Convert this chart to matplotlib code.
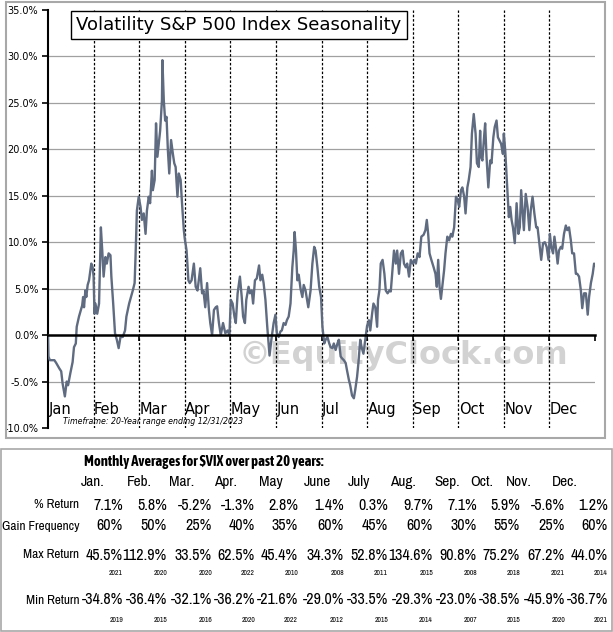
import matplotlib
matplotlib.use("Agg")
import matplotlib.pyplot as plt
from matplotlib.patches import Rectangle

W, H = 613, 632

# seasonal path (fractional month position, cumulative % change)
pos = [
    0.00, 0.01, 0.04, 0.07, 0.14, 0.18, 0.25, 0.29, 0.32, 0.37, 0.41, 0.44, 0.49, 0.54, 0.57,
    0.61, 0.63, 0.68, 0.71, 0.75, 0.77, 0.79, 0.82, 0.84, 0.87, 0.90, 0.93, 0.95, 0.98, 1.00,
    1.02, 1.04, 1.08, 1.12, 1.16, 1.19, 1.22, 1.26, 1.29, 1.33, 1.37, 1.39, 1.43, 1.47, 1.51,
    1.55, 1.59, 1.64, 1.69, 1.72, 1.78, 1.82, 1.86, 1.90, 1.92, 1.95, 1.99,
    2.03, 2.06, 2.10, 2.14, 2.17, 2.21, 2.24, 2.28, 2.30, 2.34, 2.37, 2.40, 2.43, 2.46, 2.50,
    2.51, 2.54, 2.57, 2.60, 2.63, 2.66, 2.70, 2.74, 2.77, 2.80, 2.84, 2.87, 2.91, 2.94, 2.98,
    3.00, 3.04, 3.08, 3.11, 3.15, 3.20, 3.24, 3.28, 3.34, 3.38, 3.41, 3.45, 3.49, 3.53, 3.56,
    3.60, 3.64, 3.68, 3.71, 3.75, 3.79, 3.84, 3.89, 3.94, 3.98,
    4.01, 4.05, 4.09, 4.12, 4.16, 4.21, 4.25, 4.28, 4.32, 4.35, 4.40, 4.43, 4.47, 4.50, 4.54,
    4.58, 4.63, 4.66, 4.70, 4.73, 4.77, 4.81, 4.86, 4.90, 4.95, 4.99,
    5.02, 5.06, 5.10, 5.13, 5.17, 5.21, 5.24, 5.28, 5.32, 5.36, 5.39, 5.41, 5.44, 5.47, 5.50,
    5.54, 5.58, 5.61, 5.65, 5.71, 5.76, 5.80, 5.84, 5.87, 5.91, 5.95, 5.99,
    6.02, 6.06, 6.09, 6.13, 6.17, 6.20, 6.24, 6.27, 6.31, 6.35, 6.38, 6.42, 6.45, 6.49, 6.53,
    6.56, 6.60, 6.63, 6.67, 6.71, 6.74, 6.78, 6.81, 6.85, 6.88, 6.92, 6.96,
    7.00, 7.04, 7.07, 7.11, 7.14, 7.18, 7.22, 7.24, 7.27, 7.30, 7.34, 7.38, 7.41, 7.45, 7.49,
    7.52, 7.56, 7.59, 7.63, 7.66, 7.70, 7.74, 7.78, 7.81, 7.85, 7.88, 7.92, 7.96, 8.00,
    8.04, 8.07, 8.11, 8.15, 8.19, 8.24, 8.28, 8.31, 8.34, 8.37, 8.41, 8.46, 8.50, 8.53, 8.56,
    8.59, 8.62, 8.65, 8.69, 8.72, 8.76, 8.80, 8.84, 8.87, 8.91, 8.95, 8.99,
    9.02, 9.06, 9.09, 9.13, 9.16, 9.20, 9.23, 9.27, 9.30, 9.34, 9.38, 9.41, 9.45, 9.48, 9.50,
    9.53, 9.56, 9.59, 9.62, 9.66, 9.70, 9.73, 9.77, 9.80, 9.84, 9.87, 9.91, 9.94, 9.98, 10.00,
    10.03, 10.07, 10.11, 10.14, 10.17, 10.20, 10.24, 10.28, 10.32, 10.35, 10.38, 10.41, 10.44,
    10.48, 10.52, 10.56, 10.59, 10.63, 10.67, 10.71, 10.74, 10.78, 10.82, 10.86, 10.90, 10.94, 10.98,
    11.01, 11.04, 11.08, 11.11, 11.15, 11.18, 11.21, 11.25, 11.28, 11.32, 11.36, 11.39, 11.43,
    11.47, 11.50, 11.54, 11.58, 11.61, 11.65, 11.69, 11.72, 11.76, 11.80, 11.84, 11.87, 11.91,
    11.95, 11.98, 12.00,
]
vix_pct = [
    0.0, -2.3, -2.7, -2.7, -2.7, -3.0, -3.6, -3.9, -5.2, -6.6, -5.0, -5.4, -4.1, -2.9, -1.3,
    -0.9, 0.9, 2.0, 2.5, 3.2, 4.1, 3.0, 4.8, 4.1, 5.4, 5.9, 7.0, 7.7, 7.3, 6.3,
    2.3, 3.4, 2.3, 3.4, 11.6, 9.1, 6.3, 8.4, 7.7, 8.8, 8.6, 6.3, 3.4, 0.2, -0.5,
    -1.4, -0.2, -0.2, 0.5, 2.0, 3.4, 4.1, 4.8, 5.6, 8.4, 13.4, 14.9,
    13.8, 12.4, 13.1, 10.9, 13.4, 14.9, 14.2, 17.7, 15.6, 16.7, 22.8, 19.2, 20.6, 22.0, 25.3,
    29.6, 25.3, 23.1, 23.5, 19.9, 17.4, 21.0, 19.5, 18.5, 18.1, 14.9, 17.4, 16.7, 14.2, 11.3,
    10.4, 9.1, 5.9, 5.6, 5.9, 7.7, 5.2, 4.8, 7.2, 4.5, 4.8, 3.0, 5.6, 2.7, 1.3,
    0.0, 2.7, 3.0, 3.1, 1.3, 0.0, 1.3, 0.2, 0.5, 0.0,
    3.8, 3.4, 2.0, 1.3, 4.5, 6.3, 4.1, 2.0, 1.3, 3.8, 5.2, 4.5, 4.8, 3.4, 5.9,
    6.1, 7.5, 5.9, 6.5, 5.6, 3.8, 0.9, -2.2, -0.5, 1.3, 2.2,
    0.2, -0.2, 0.4, 0.5, 1.3, 1.1, 1.6, 2.0, 3.4, 7.3, 9.1, 11.1, 9.1, 5.9, 6.5,
    5.0, 4.1, 5.4, 4.8, 3.0, 4.8, 7.7, 9.5, 9.1, 7.3, 5.2, 4.1,
    0.9, -0.9, -0.5, -0.2, -0.9, -1.3, -1.4, -0.9, -1.6, -0.9, -0.5, -2.3, -2.5, -2.7, -3.0,
    -3.8, -4.8, -5.4, -6.5, -6.8, -5.9, -4.5, -3.0, -0.5, -1.3, -2.0, -0.5,
    1.0, 1.6, 0.5, 2.3, 3.4, 3.0, 0.9, 3.8, 4.8, 7.7, 8.1, 6.6, 4.8, 4.5, 4.8,
    4.7, 7.3, 9.1, 7.7, 9.1, 6.6, 8.8, 9.1, 7.7, 7.3, 7.7, 6.3, 8.1, 7.7,
    8.1, 7.7, 8.8, 8.4, 10.6, 10.8, 11.3, 12.4, 10.9, 8.8, 8.1, 7.3, 6.6, 5.2, 8.1,
    5.2, 3.9, 5.2, 7.0, 8.8, 10.6, 10.2, 10.9, 10.6, 11.6, 14.9, 14.5,
    13.8, 15.6, 15.9, 14.9, 13.1, 15.9, 16.7, 18.1, 21.7, 23.8, 21.7, 18.5, 18.1, 22.0, 19.2,
    18.8, 20.9, 22.8, 19.2, 15.9, 18.8, 18.5, 21.3, 22.4, 23.1, 21.3, 20.9, 20.6, 19.5, 21.7,
    19.9, 16.3, 12.7, 13.8, 12.4, 11.6, 9.9, 14.2, 10.9, 11.6, 15.6, 13.4, 11.3,
    15.2, 13.8, 11.3, 13.4, 14.9, 13.1, 11.6, 11.6, 9.9, 8.1, 9.9, 10.0, 9.5, 8.1,
    10.9, 9.5, 8.8, 10.6, 9.1, 7.7, 9.1, 9.5, 9.3, 10.9, 11.8, 11.3, 11.6,
    10.2, 8.8, 8.8, 6.6, 6.6, 6.3, 4.8, 2.9, 4.5, 4.5, 2.2, 4.1, 5.6,
    6.6, 7.7, 7.5,
]

month_names = ["Jan", "Feb", "Mar", "Apr", "May", "Jun",
               "Jul", "Aug", "Sep", "Oct", "Nov", "Dec"]
y_ticks = [-10, -5, 0, 5, 10, 15, 20, 25, 30, 35]

# table below the chart
tbl_months = ["Jan.", "Feb.", "Mar.", "Apr.", "May", "June",
              "July", "Aug.", "Sep.", "Oct.", "Nov.", "Dec."]
pct_return = [7.1, 5.8, -5.2, -1.3, 2.8, 1.4, 0.3, 9.7, 7.1, 5.9, -5.6, 1.2]
gain_freq = [60, 50, 25, 40, 35, 60, 45, 60, 30, 55, 25, 60]
max_return = [45.5, 112.9, 33.5, 62.5, 45.4, 34.3, 52.8, 134.6, 90.8, 75.2, 67.2, 44.0]
max_year = [2021, 2020, 2020, 2022, 2010, 2008, 2011, 2015, 2008, 2018, 2021, 2014]
min_return = [-34.8, -36.4, -32.1, -36.2, -21.6, -29.0, -33.5, -29.3, -23.0, -38.5, -45.9, -36.7]
min_year = [2019, 2015, 2016, 2020, 2022, 2012, 2015, 2014, 2007, 2015, 2020, 2021]

# pixel layout of the table
COL_RIGHT = [123, 167, 212, 255, 298, 344, 388, 433, 477, 520, 565, 608]
HEAD_X = [93, 139, 182, 226, 271, 317, 359, 403, 447, 482, 519, 565]
NARROW = ["Archivo Narrow", "Liberation Sans", "DejaVu Sans"]
NARROW_BOLD = ["Asap Condensed", "Archivo Narrow", "DejaVu Sans"]
VAL_SIZE = 11.5
LBL_SIZE = 9.5
HEAD_SIZE = 11
YEAR_SIZE = 5.5


def fx(px):
    return px / W


def fy(py):
    return 1 - py / H


fig = plt.figure(figsize=(W / 100, H / 100), dpi=100)
fig.patch.set_facecolor("white")

ax = fig.add_axes([fx(48), fy(428), (595 - 48) / W, (428 - 10) / H])
ax.set_xlim(0, 12)
ax.set_ylim(-10, 35)

for yv in y_ticks[1:-1]:
    if yv != 0:
        ax.axhline(yv, color="#a0a0a0", lw=0.9, zorder=1)
for m in range(1, 12):
    ax.axvline(m, color="black", lw=0.9, ls=(0, (2, 1.5)), zorder=2)

ax.text(7.8, -2.2, "\u00a9EquityClock.com", fontsize=23, fontweight="bold",
        color="#d2d2d2", ha="center", va="center", zorder=1)

ax.plot(pos, vix_pct, color="#5f6b80", lw=1.7, zorder=4)

for spine in ["top", "right"]:
    ax.spines[spine].set_visible(False)
ax.spines["left"].set_linewidth(1.5)
ax.spines["bottom"].set_position(("data", 0))
ax.spines["bottom"].set_linewidth(1.8)
ax.spines["bottom"].set_zorder(5)

ax.set_xticks(range(13))
ax.tick_params(axis="x", direction="out", length=4, width=1.2, labelbottom=False)
ax.set_yticks(y_ticks)
ax.set_yticklabels([f"{v:.1f}%" for v in y_ticks])
ax.tick_params(axis="y", direction="out", length=4, width=1.2, pad=3, labelsize=7)

for i, name in enumerate(month_names):
    ax.text(i + 0.01, -8.05, name, fontsize=10.5, ha="left", va="center", zorder=6)
ax.text(0.33, -9.3, "Timeframe: 20-Year range ending 12/31/2023",
        fontsize=5.7, fontstyle="italic", ha="left", va="center", zorder=6)

fig.text(fx(239), fy(25), "Volatility S&P 500 Index Seasonality", fontsize=13,
         ha="center", va="center",
         bbox=dict(boxstyle="square,pad=0.3", fc="white", ec="black", lw=1))

# frames
fig.patches.append(Rectangle((fx(6), fy(438)), 599 / W, 436 / H, transform=fig.transFigure,
                             fill=False, edgecolor="#a8a8a8", lw=1.5))
fig.patches.append(Rectangle((fx(1), fy(631)), 611 / W, 182 / H, transform=fig.transFigure,
                             fill=False, edgecolor="#a8a8a8", lw=1.2))

# table
fig.text(fx(84), fy(462), "Monthly Averages for $VIX over past 20 years:", family=NARROW_BOLD,
         fontsize=10.5, fontweight="bold", ha="left", va="center")

row_labels = [("% Return", 505), ("Gain Frequency", 526), ("Max Return", 555), ("Min Return", 600)]
for label, py in row_labels:
    fig.text(fx(79), fy(py), label, family=NARROW, fontsize=LBL_SIZE, ha="right", va="center")

for i in range(12):
    fig.text(fx(HEAD_X[i]), fy(482), tbl_months[i], family=NARROW, fontsize=HEAD_SIZE,
             ha="center", va="center")
    xr = fx(COL_RIGHT[i])
    fig.text(xr, fy(505), f"{pct_return[i]:.1f}%", family=NARROW, fontsize=VAL_SIZE,
             ha="right", va="center")
    fig.text(xr, fy(526), f"{gain_freq[i]}%", family=NARROW, fontsize=VAL_SIZE,
             ha="right", va="center")
    fig.text(xr, fy(555), f"{max_return[i]:.1f}%", family=NARROW, fontsize=VAL_SIZE,
             ha="right", va="center")
    fig.text(xr, fy(573), str(max_year[i]), family=NARROW, fontsize=YEAR_SIZE,
             ha="right", va="center")
    fig.text(xr, fy(600), f"{min_return[i]:.1f}%", family=NARROW, fontsize=VAL_SIZE,
             ha="right", va="center")
    fig.text(xr, fy(620), str(min_year[i]), family=NARROW, fontsize=YEAR_SIZE,
             ha="right", va="center")

fig.savefig("out.png", dpi=100)
